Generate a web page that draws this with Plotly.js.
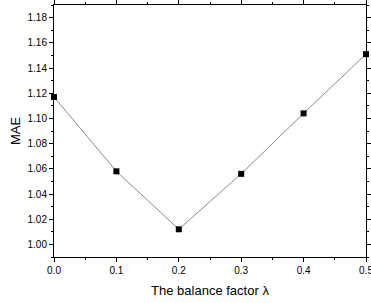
<!DOCTYPE html>
<html>
<head>
<meta charset="utf-8">
<script src="https://cdn.plot.ly/plotly-3.0.1.min.js"></script>
<style>html,body{margin:0;padding:0;background:#fff;}</style>
</head>
<body>
<div id="chart" style="width:371px;height:303px;"></div>
<script>
const lambdas = [0.0, 0.1, 0.2, 0.3, 0.4, 0.5];
const maeValues = [1.117, 1.058, 1.012, 1.056, 1.104, 1.151];
const xTickVals = [0.0, 0.1, 0.2, 0.3, 0.4, 0.5];
const xTickText = ['0.0', '0.1', '0.2', '0.3', '0.4', '0.5'];

const trace = {
  x: lambdas,
  y: maeValues,
  type: 'scatter',
  mode: 'lines+markers',
  line: {color: '#8a8a8a', width: 1},
  marker: {symbol: 'square', size: 6, color: '#000'},
  cliponaxis: false,
  showlegend: false
};

const font = 'Liberation Sans, Arial, sans-serif';
const axisCommon = {
  showgrid: false,
  zeroline: false,
  showline: true,
  linecolor: '#000',
  linewidth: 1,
  mirror: 'ticks',
  ticks: 'outside',
  ticklen: 4,
  tickcolor: '#000',
  ticklabeloverflow: 'allow',
  tickfont: {family: font, size: 10, color: '#000'}
};

const layout = {
  width: 371,
  height: 303,
  margin: {l: 54, r: 5, t: 5, b: 46},
  paper_bgcolor: '#fff',
  plot_bgcolor: '#fff',
  xaxis: Object.assign({}, axisCommon, {
    range: [0, 0.5],
    tickmode: 'array',
    tickvals: xTickVals,
    ticktext: xTickText,
    minor: {tickmode: 'linear', tick0: 0, dtick: 0.05, ticklen: 2, ticks: 'outside', tickcolor: '#000', showgrid: false},
    title: {text: 'The balance factor λ', font: {family: font, size: 13, color: '#000'}, standoff: 10}
  }),
  yaxis: Object.assign({}, axisCommon, {
    range: [0.99, 1.19],
    dtick: 0.02,
    tick0: 1.0,
    tickformat: '.2f',
    minor: {dtick: 0.01, ticklen: 2, ticks: 'outside', tickcolor: '#000', showgrid: false},
    title: {text: 'MAE', font: {family: font, size: 13, color: '#000'}, standoff: 3}
  })
};

Plotly.newPlot('chart', [trace], layout, {displayModeBar: false, staticPlot: true});
</script>
</body>
</html>
